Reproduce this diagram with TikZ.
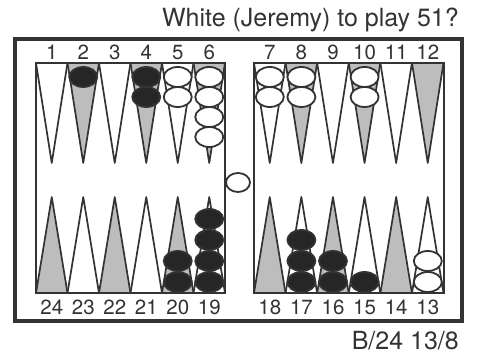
\documentclass[tikz,border=0pt]{standalone}
\usepackage{fontspec}
\setmainfont{TeX Gyre Heros}
\definecolor{ink}{gray}{0.2}
\definecolor{stipple}{gray}{0.74}

% one point: left x, base y, tip y, fill
\newcommand{\bgpoint}[4]{%
  \draw[pointline,fill=#4] (#1,#2) -- ({#1+15.75},#3) -- ({#1+31.5},#2) -- cycle;}

\begin{document}
\begin{tikzpicture}[x=1pt,y=-1pt,
  pointline/.style={draw=ink,line width=1.7pt,line join=round},
  chk/.style={draw=ink,line width=1.8pt},
  numlabel/.style={anchor=base,text=ink,font=\fontsize{20.5}{22}\selectfont,inner sep=0pt}]
  \useasboundingbox (0,0) rectangle (477,355);
  % Frame and the two boards
  \draw[ink,line width=4.5pt] (15,39) rectangle (462,321);
  % Points
  \foreach \k/\f in {0/white,1/stipple,2/white,3/stipple,4/white,5/stipple}{
    \bgpoint{36+31.5*\k}{63}{163}{\f}
    \bgpoint{254+31.6*\k}{63}{163}{\f}
  }
  \foreach \k/\f in {0/stipple,1/white,2/stipple,3/white,4/stipple,5/white}{
    \bgpoint{36+31.5*\k}{293}{197}{\f}
    \bgpoint{254+31.6*\k}{293}{197}{\f}
  }
  \draw[ink,line width=1.8pt] (36,63) rectangle (225,293);
  \draw[ink,line width=1.8pt] (254,63) rectangle (444,293);
  % Point numbers
  \foreach \k in {0,...,5}{
    \pgfmathtruncatemacro\na{\k+1}
    \pgfmathtruncatemacro\nb{\k+7}
    \pgfmathtruncatemacro\nc{24-\k}
    \pgfmathtruncatemacro\nd{18-\k}
    \node[numlabel] (n\na) at ({51.75+31.5*\k},60) {\na};
    \node[numlabel] (n\nb) at ({269.8+31.6*\k},60) {\nb};
    \node[numlabel] (n\nc) at ({51.75+31.5*\k},315) {\nc};
    \node[numlabel] (n\nd) at ({269.8+31.6*\k},315) {\nd};
  }
  % Checkers on the top points
  \foreach \x/\n/\f in {83.25/1/black!85,146.25/2/black!85,177.75/2/white,
      209.25/4/white,269.8/2/white,301.4/2/white,364.6/2/white}
    \foreach \i in {1,...,\n}
      \draw[chk,fill=\f] (\x,{77+20*(\i-1)}) ellipse [x radius=14, y radius=10];
  % Checkers on the bottom points
  \foreach \x/\n/\f in {177.75/2/black!85,209.25/4/black!85,301.4/3/black!85,
      333/2/black!85,364.6/1/black!85,427.8/2/white}
    \foreach \i in {1,...,\n}
      \draw[chk,fill=\f] (\x,{282-21*(\i-1)}) ellipse [x radius=14, y radius=10];
  % Checker on the bar
  \draw[chk,fill=white] (238,182.5) ellipse [x radius=12, y radius=9.5];
  % Captions
  \node[anchor=base east,text=ink,font=\fontsize{25}{28}\selectfont,inner sep=0pt]
    (title) at (459,27) {White (Jeremy) to play 51?};
  \node[anchor=base east,text=ink,font=\fontsize{25}{28}\selectfont,inner sep=0pt]
    (move) at (459,350) {B/24 13/8};
\end{tikzpicture}
\end{document}
